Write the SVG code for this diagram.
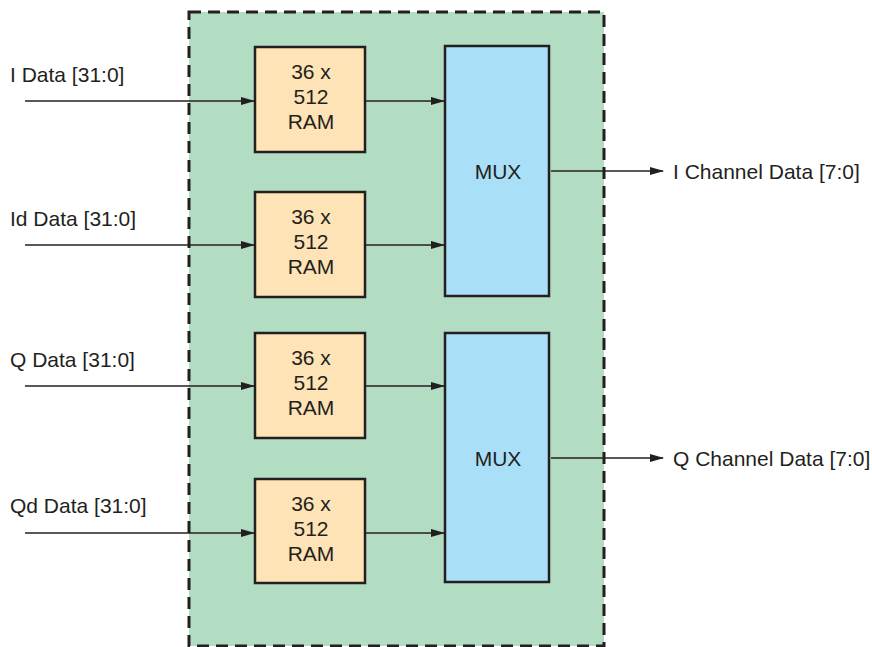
<svg xmlns="http://www.w3.org/2000/svg" width="872" height="647" viewBox="0 0 872 647">
<style>
text{font-family:"Liberation Sans",Arial,Helvetica,sans-serif;font-size:21px;fill:#231f20}
.c{text-anchor:middle}
.ram{fill:#fde3b6;stroke:#231f20;stroke-width:2.5}
.mux{fill:#aadff8;stroke:#231f20;stroke-width:2.5}
.ln{stroke:#231f20;stroke-width:1.5;fill:none;marker-end:url(#ah)}
</style>
<defs>
<marker id="ah" markerWidth="14" markerHeight="8" refX="13" refY="4" orient="auto" markerUnits="userSpaceOnUse">
<path d="M0,0 L14,4 L0,8 Z" fill="#231f20"/>
</marker>
</defs>
<g id="container">
<rect x="189" y="12" width="415" height="634" fill="#b2ddc2" stroke="#231f20" stroke-width="3" stroke-dasharray="12,7"/>
</g>
<g id="connectors">
<path class="ln" d="M25,101 H254"/>
<path class="ln" d="M25,245 H254"/>
<path class="ln" d="M25,386 H254"/>
<path class="ln" d="M25,533 H254"/>
<path class="ln" d="M366,101 H444"/>
<path class="ln" d="M366,245 H444"/>
<path class="ln" d="M366,386 H444"/>
<path class="ln" d="M366,533 H444"/>
<path class="ln" d="M551,171 H663"/>
<path class="ln" d="M551,458 H663"/>
</g>
<g id="ram1"><rect class="ram" x="255" y="47" width="110" height="105"/><text class="c" x="311" y="79">36 x</text><text class="c" x="311" y="104">512</text><text class="c" x="311" y="129">RAM</text></g>
<g id="ram2"><rect class="ram" x="255" y="192" width="110" height="105"/><text class="c" x="311" y="224">36 x</text><text class="c" x="311" y="249">512</text><text class="c" x="311" y="274">RAM</text></g>
<g id="ram3"><rect class="ram" x="255" y="333" width="110" height="105"/><text class="c" x="311" y="365">36 x</text><text class="c" x="311" y="390">512</text><text class="c" x="311" y="415">RAM</text></g>
<g id="ram4"><rect class="ram" x="255" y="479" width="110" height="104"/><text class="c" x="311" y="511">36 x</text><text class="c" x="311" y="536">512</text><text class="c" x="311" y="561">RAM</text></g>
<g id="mux1"><rect class="mux" x="445" y="46" width="104" height="250"/><text class="c" x="498" y="179">MUX</text></g>
<g id="mux2"><rect class="mux" x="445" y="333" width="104" height="249"/><text class="c" x="498" y="466">MUX</text></g>
<g id="labels">
<text x="10" y="82">I Data [31:0]</text>
<text x="10" y="226">Id Data [31:0]</text>
<text x="10" y="367">Q Data [31:0]</text>
<text x="10" y="513">Qd Data [31:0]</text>
<text x="673" y="179">I Channel Data [7:0]</text>
<text x="673" y="466">Q Channel Data [7:0]</text>
</g>
</svg>
